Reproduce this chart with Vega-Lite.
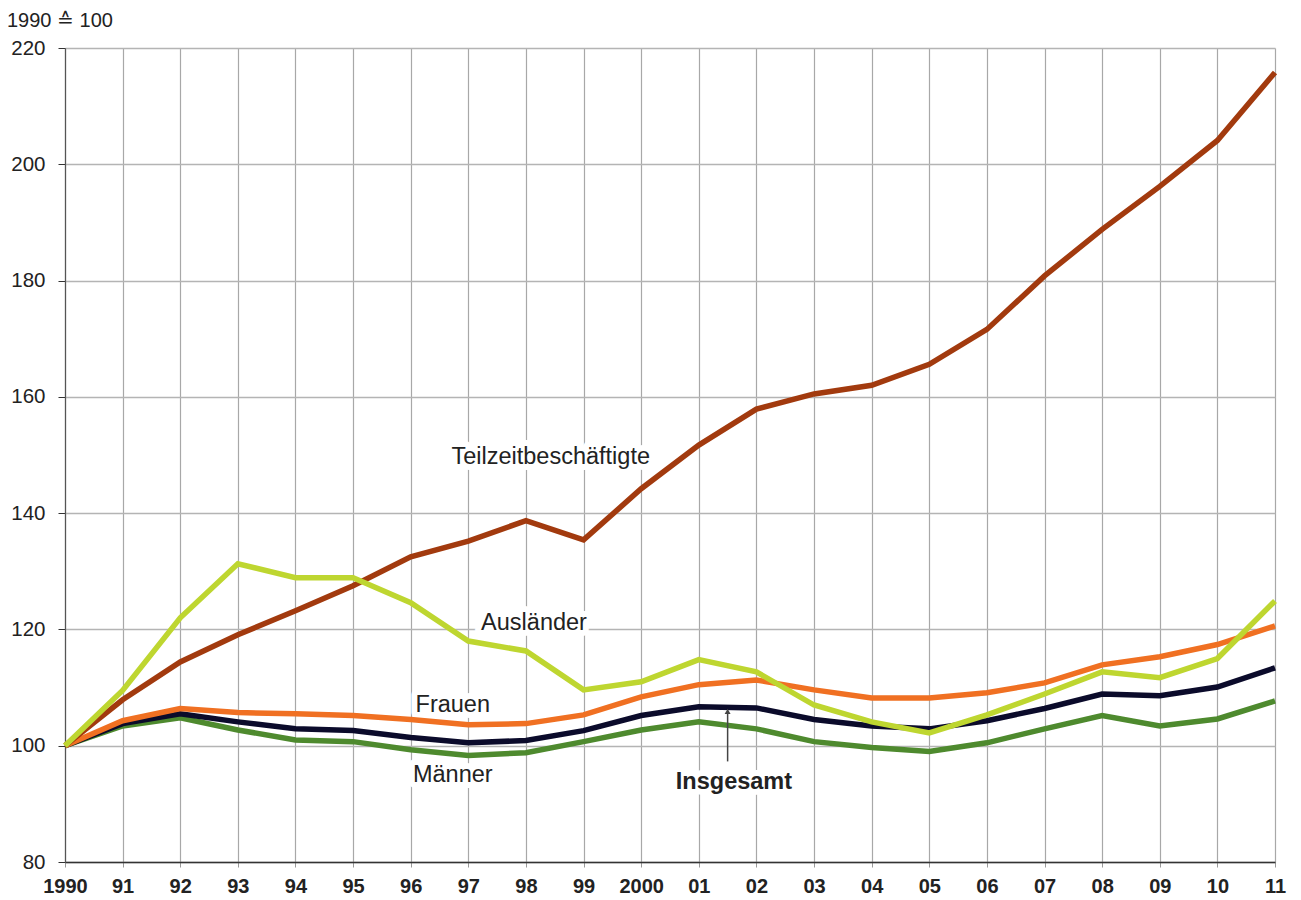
{
  "$schema": "https://vega.github.io/schema/vega-lite/v6.json",
  "width": 1210,
  "height": 814,
  "autosize": {"type": "none"},
  "padding": {"left": 65, "top": 48, "right": 26, "bottom": 38},
  "background": "white",
  "title": {
    "text": "1990 ≙ 100",
    "anchor": "start",
    "frame": "group",
    "dx": -58,
    "dy": 19,
    "offset": 10,
    "fontSize": 20,
    "fontWeight": "normal",
    "font": "Liberation Sans",
    "color": "#222222",
    "baseline": "alphabetic"
  },
  "config": {
    "view": {"stroke": null},
    "font": "Liberation Sans",
    "title": {"fontSize": 20, "fontWeight": "normal", "font": "Liberation Sans"}
  },
  "datasets": {
    "series": [
      {"year": 1990, "s": "Männer", "v": 100}, {"year": 1991, "s": "Männer", "v": 103.4}, {"year": 1992, "s": "Männer", "v": 104.8}, {"year": 1993, "s": "Männer", "v": 102.7}, {"year": 1994, "s": "Männer", "v": 101.0}, {"year": 1995, "s": "Männer", "v": 100.7}, {"year": 1996, "s": "Männer", "v": 99.3}, {"year": 1997, "s": "Männer", "v": 98.3}, {"year": 1998, "s": "Männer", "v": 98.8}, {"year": 1999, "s": "Männer", "v": 100.7}, {"year": 2000, "s": "Männer", "v": 102.7}, {"year": 2001, "s": "Männer", "v": 104.1}, {"year": 2002, "s": "Männer", "v": 102.9}, {"year": 2003, "s": "Männer", "v": 100.7}, {"year": 2004, "s": "Männer", "v": 99.7}, {"year": 2005, "s": "Männer", "v": 99.0}, {"year": 2006, "s": "Männer", "v": 100.5}, {"year": 2007, "s": "Männer", "v": 102.9}, {"year": 2008, "s": "Männer", "v": 105.2}, {"year": 2009, "s": "Männer", "v": 103.4}, {"year": 2010, "s": "Männer", "v": 104.6}, {"year": 2011, "s": "Männer", "v": 107.7},
      {"year": 1990, "s": "Insgesamt", "v": 100}, {"year": 1991, "s": "Insgesamt", "v": 103.8}, {"year": 1992, "s": "Insgesamt", "v": 105.5}, {"year": 1993, "s": "Insgesamt", "v": 104.1}, {"year": 1994, "s": "Insgesamt", "v": 102.9}, {"year": 1995, "s": "Insgesamt", "v": 102.6}, {"year": 1996, "s": "Insgesamt", "v": 101.4}, {"year": 1997, "s": "Insgesamt", "v": 100.5}, {"year": 1998, "s": "Insgesamt", "v": 100.9}, {"year": 1999, "s": "Insgesamt", "v": 102.6}, {"year": 2000, "s": "Insgesamt", "v": 105.2}, {"year": 2001, "s": "Insgesamt", "v": 106.7}, {"year": 2002, "s": "Insgesamt", "v": 106.5}, {"year": 2003, "s": "Insgesamt", "v": 104.5}, {"year": 2004, "s": "Insgesamt", "v": 103.4}, {"year": 2005, "s": "Insgesamt", "v": 102.9}, {"year": 2006, "s": "Insgesamt", "v": 104.3}, {"year": 2007, "s": "Insgesamt", "v": 106.4}, {"year": 2008, "s": "Insgesamt", "v": 108.9}, {"year": 2009, "s": "Insgesamt", "v": 108.6}, {"year": 2010, "s": "Insgesamt", "v": 110.1}, {"year": 2011, "s": "Insgesamt", "v": 113.4},
      {"year": 1990, "s": "Frauen", "v": 100}, {"year": 1991, "s": "Frauen", "v": 104.3}, {"year": 1992, "s": "Frauen", "v": 106.4}, {"year": 1993, "s": "Frauen", "v": 105.7}, {"year": 1994, "s": "Frauen", "v": 105.5}, {"year": 1995, "s": "Frauen", "v": 105.2}, {"year": 1996, "s": "Frauen", "v": 104.5}, {"year": 1997, "s": "Frauen", "v": 103.6}, {"year": 1998, "s": "Frauen", "v": 103.8}, {"year": 1999, "s": "Frauen", "v": 105.3}, {"year": 2000, "s": "Frauen", "v": 108.4}, {"year": 2001, "s": "Frauen", "v": 110.5}, {"year": 2002, "s": "Frauen", "v": 111.3}, {"year": 2003, "s": "Frauen", "v": 109.6}, {"year": 2004, "s": "Frauen", "v": 108.2}, {"year": 2005, "s": "Frauen", "v": 108.2}, {"year": 2006, "s": "Frauen", "v": 109.1}, {"year": 2007, "s": "Frauen", "v": 110.8}, {"year": 2008, "s": "Frauen", "v": 113.9}, {"year": 2009, "s": "Frauen", "v": 115.3}, {"year": 2010, "s": "Frauen", "v": 117.4}, {"year": 2011, "s": "Frauen", "v": 120.6},
      {"year": 1990, "s": "Teilzeitbeschäftigte", "v": 100}, {"year": 1991, "s": "Teilzeitbeschäftigte", "v": 107.9}, {"year": 1992, "s": "Teilzeitbeschäftigte", "v": 114.4}, {"year": 1993, "s": "Teilzeitbeschäftigte", "v": 119.1}, {"year": 1994, "s": "Teilzeitbeschäftigte", "v": 123.2}, {"year": 1995, "s": "Teilzeitbeschäftigte", "v": 127.5}, {"year": 1996, "s": "Teilzeitbeschäftigte", "v": 132.5}, {"year": 1997, "s": "Teilzeitbeschäftigte", "v": 135.2}, {"year": 1998, "s": "Teilzeitbeschäftigte", "v": 138.7}, {"year": 1999, "s": "Teilzeitbeschäftigte", "v": 135.4}, {"year": 2000, "s": "Teilzeitbeschäftigte", "v": 144.2}, {"year": 2001, "s": "Teilzeitbeschäftigte", "v": 151.7}, {"year": 2002, "s": "Teilzeitbeschäftigte", "v": 157.9}, {"year": 2003, "s": "Teilzeitbeschäftigte", "v": 160.5}, {"year": 2004, "s": "Teilzeitbeschäftigte", "v": 162.0}, {"year": 2005, "s": "Teilzeitbeschäftigte", "v": 165.6}, {"year": 2006, "s": "Teilzeitbeschäftigte", "v": 171.6}, {"year": 2007, "s": "Teilzeitbeschäftigte", "v": 180.8}, {"year": 2008, "s": "Teilzeitbeschäftigte", "v": 188.8}, {"year": 2009, "s": "Teilzeitbeschäftigte", "v": 196.2}, {"year": 2010, "s": "Teilzeitbeschäftigte", "v": 204.1}, {"year": 2011, "s": "Teilzeitbeschäftigte", "v": 215.8},
      {"year": 1990, "s": "Ausländer", "v": 100}, {"year": 1991, "s": "Ausländer", "v": 109.5}, {"year": 1992, "s": "Ausländer", "v": 122.0}, {"year": 1993, "s": "Ausländer", "v": 131.3}, {"year": 1994, "s": "Ausländer", "v": 128.9}, {"year": 1995, "s": "Ausländer", "v": 128.9}, {"year": 1996, "s": "Ausländer", "v": 124.6}, {"year": 1997, "s": "Ausländer", "v": 118.0}, {"year": 1998, "s": "Ausländer", "v": 116.3}, {"year": 1999, "s": "Ausländer", "v": 109.6}, {"year": 2000, "s": "Ausländer", "v": 111.0}, {"year": 2001, "s": "Ausländer", "v": 114.8}, {"year": 2002, "s": "Ausländer", "v": 112.7}, {"year": 2003, "s": "Ausländer", "v": 107.0}, {"year": 2004, "s": "Ausländer", "v": 104.1}, {"year": 2005, "s": "Ausländer", "v": 102.2}, {"year": 2006, "s": "Ausländer", "v": 105.3}, {"year": 2007, "s": "Ausländer", "v": 108.9}, {"year": 2008, "s": "Ausländer", "v": 112.7}, {"year": 2009, "s": "Ausländer", "v": 111.7}, {"year": 2010, "s": "Ausländer", "v": 115.0}, {"year": 2011, "s": "Ausländer", "v": 124.9}
    ],
    "labels": [
      {"label": "Teilzeitbeschäftigte", "year": 1998.43, "v": 149.7},
      {"label": "Ausländer", "year": 1998.14, "v": 121.1},
      {"label": "Frauen", "year": 1996.73, "v": 107.0},
      {"label": "Männer", "year": 1996.73, "v": 95.0}
    ],
    "boldlabels": [
      {"label": "Insgesamt", "year": 2001.61, "v": 93.8}
    ],
    "arrow": [
      {"year": 2001.5, "v1": 97.3, "v2": 105.6, "tip": 105.9}
    ]
  },
  "encoding": {
    "x": {
      "field": "year",
      "type": "quantitative",
      "scale": {"domain": [1990, 2011], "nice": false, "zero": false},
      "axis": {
        "title": null,
        "values": [1990,1991,1992,1993,1994,1995,1996,1997,1998,1999,2000,2001,2002,2003,2004,2005,2006,2007,2008,2009,2010,2011],
        "labelExpr": "datum.value == 1990 || datum.value == 2000 ? '' + datum.value : substring('' + datum.value, 2, 4)",
        "labelFont": "Liberation Sans",
        "labelFontSize": 20,
        "labelFontWeight": "bold",
        "labelColor": "#222222",
        "labelPadding": 9,
        "labelOverlap": false,
        "labelFlush": false,
        "labelBound": false,
        "tickSize": 5,
        "tickColor": "#999999",
        "domainColor": "#333333",
        "domainWidth": 1.5,
        "grid": true,
        "gridColor": "#a8a8a8",
        "gridWidth": 1.2
      }
    }
  },
  "layer": [
    {
      "data": {"name": "labels"},
      "mark": {"type": "text", "fontSize": 23.5, "font": "Liberation Sans", "baseline": "middle", "align": "center", "fill": "white", "stroke": "white", "strokeWidth": 12, "strokeJoin": "round"},
      "encoding": {
        "y": {"field": "v", "type": "quantitative"},
        "text": {"field": "label"}
      }
    },
    {
      "data": {"name": "boldlabels"},
      "mark": {"type": "text", "fontSize": 23.5, "font": "Liberation Sans", "fontWeight": "bold", "baseline": "middle", "align": "center", "fill": "white", "stroke": "white", "strokeWidth": 12, "strokeJoin": "round"},
      "encoding": {
        "y": {"field": "v", "type": "quantitative"},
        "text": {"field": "label"}
      }
    },
    {
      "data": {"name": "series"},
      "mark": {"type": "line", "strokeWidth": 5.5, "strokeJoin": "miter", "strokeCap": "butt"},
      "encoding": {
        "y": {
          "field": "v",
          "type": "quantitative",
          "scale": {"domain": [80, 220], "nice": false, "zero": false},
          "axis": {
            "title": null,
            "values": [80, 100, 120, 140, 160, 180, 200, 220],
            "labelFont": "Liberation Sans",
            "labelFontSize": 20.5,
            "labelColor": "#222222",
            "labelPadding": 13,
            "labelFlush": false,
            "labelBound": false,
            "tickSize": 7,
            "tickColor": "#333333",
            "domainColor": "#555555",
            "domainWidth": 1.2,
            "grid": true,
            "gridColor": "#b4b4b4",
            "gridWidth": 1.5
          }
        },
        "color": {
          "field": "s",
          "type": "nominal",
          "sort": ["Männer", "Insgesamt", "Frauen", "Teilzeitbeschäftigte", "Ausländer"],
          "scale": {
            "domain": ["Männer", "Insgesamt", "Frauen", "Teilzeitbeschäftigte", "Ausländer"],
            "range": ["#4e8a2e", "#0b0b2b", "#f07022", "#a23a0e", "#bed630"]
          },
          "legend": null
        }
      }
    },
    {
      "data": {"name": "arrow"},
      "mark": {"type": "rule", "color": "#444444", "strokeWidth": 1.5},
      "encoding": {
        "y": {"field": "v1", "type": "quantitative"},
        "y2": {"field": "v2"}
      }
    },
    {
      "data": {"name": "arrow"},
      "mark": {"type": "point", "shape": "triangle-up", "filled": true, "color": "#444444", "size": 35, "opacity": 1},
      "encoding": {
        "y": {"field": "tip", "type": "quantitative"}
      }
    },
    {
      "data": {"name": "labels"},
      "mark": {"type": "text", "fontSize": 23.5, "font": "Liberation Sans", "baseline": "middle", "align": "center", "color": "#222222"},
      "encoding": {
        "y": {"field": "v", "type": "quantitative"},
        "text": {"field": "label"}
      }
    },
    {
      "data": {"name": "boldlabels"},
      "mark": {"type": "text", "fontSize": 23.5, "font": "Liberation Sans", "fontWeight": "bold", "baseline": "middle", "align": "center", "color": "#222222"},
      "encoding": {
        "y": {"field": "v", "type": "quantitative"},
        "text": {"field": "label"}
      }
    }
  ]
}
